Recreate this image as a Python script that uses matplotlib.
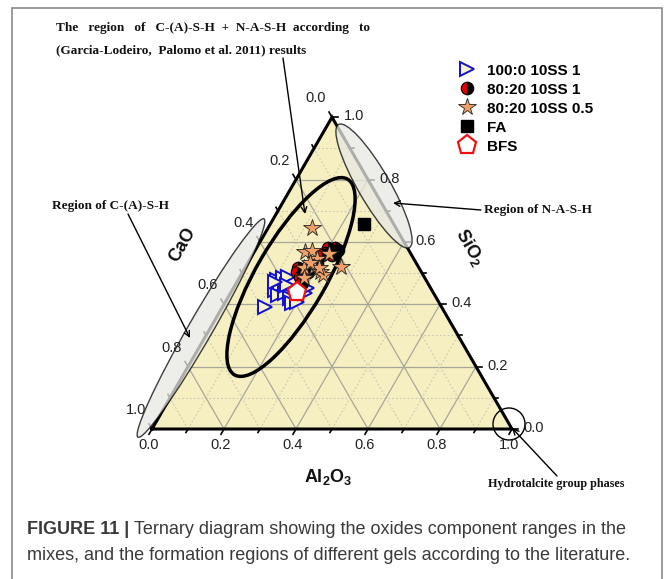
import numpy as np
import matplotlib
matplotlib.use('Agg')
import matplotlib.pyplot as plt
from matplotlib.patches import Ellipse, Polygon, Circle, Rectangle

plt.rcParams['font.family'] = ['Liberation Sans', 'DejaVu Sans']
plt.rcParams['mathtext.fontset'] = 'custom'
plt.rcParams['mathtext.bf'] = 'Liberation Sans:bold'
plt.rcParams['mathtext.rm'] = 'Liberation Sans'
plt.rcParams['mathtext.default'] = 'bf'

# compositions (CaO, SiO2, Al2O3 fractions)
ss100_cao = [0.490, 0.415, 0.436, 0.414, 0.394, 0.377, 0.435, 0.413, 0.408, 0.411, 0.394, 0.358, 0.345, 0.395, 0.422]
ss100_sio2 = [0.392, 0.478, 0.446, 0.462, 0.483, 0.488, 0.430, 0.435, 0.419, 0.403, 0.408, 0.435, 0.451, 0.462, 0.472]
ss100_al2o3 = [0.118, 0.107, 0.118, 0.124, 0.123, 0.135, 0.135, 0.152, 0.173, 0.186, 0.198, 0.207, 0.204, 0.143, 0.106]

ss80_cao = [0.221, 0.202, 0.196, 0.238, 0.250, 0.337, 0.346, 0.345, 0.314, 0.277, 0.351, 0.222]
ss80_sio2 = [0.579, 0.579, 0.574, 0.563, 0.558, 0.515, 0.504, 0.488, 0.504, 0.531, 0.467, 0.558]
ss80_al2o3 = [0.200, 0.219, 0.230, 0.199, 0.192, 0.148, 0.150, 0.167, 0.182, 0.192, 0.182, 0.220]

ss80h_cao = [0.291, 0.269, 0.270, 0.228, 0.215, 0.318, 0.289, 0.282, 0.277, 0.336, 0.280, 0.295, 0.232]
ss80h_sio2 = [0.568, 0.571, 0.545, 0.560, 0.520, 0.517, 0.520, 0.502, 0.494, 0.483, 0.515, 0.532, 0.646]
ss80h_al2o3 = [0.141, 0.160, 0.185, 0.212, 0.265, 0.165, 0.191, 0.216, 0.229, 0.181, 0.205, 0.173, 0.122]

fa_cao, fa_sio2, fa_al2o3 = [0.083], [0.657], [0.260]
bfs_cao, bfs_sio2, bfs_al2o3 = [0.378], [0.440], [0.182]

labels = ['100:0 10SS 1', '80:20 10SS 1', '80:20 10SS 0.5', 'FA', 'BFS']
tick_vals = [0.0, 0.2, 0.4, 0.6, 0.8, 1.0]

W, H = 667, 579
S, X0, Y0 = 360.0, 152, 429   # pixels per unit, triangle origin in pixels
fig = plt.figure(figsize=(W / 100, H / 100), dpi=100)
ax = fig.add_axes([0, 0, 1, 1])
ax.set_xlim(-X0 / S, (W - X0) / S)
ax.set_ylim((Y0 - H) / S, Y0 / S)
ax.axis('off')

R3 = np.sqrt(3) / 2


def tern(ca, si, al):
    ca, si, al = np.asarray(ca, float), np.asarray(si, float), np.asarray(al, float)
    t = ca + si + al
    si, al = si / t, al / t
    return al + si / 2, si * R3


def px(x, y):
    return (x - X0) / S, (Y0 - y) / S


# background triangle
corners = [tern(1, 0, 0), tern(0, 0, 1), tern(0, 1, 0)]
ax.add_patch(Polygon(corners, closed=True, facecolor='#f5efc2', edgecolor='none', zorder=0))

# grid
for k in range(1, 10):
    v = k / 10
    if k % 2 == 0:
        kw = dict(color='#a9a79a', lw=0.9, ls='-')
    else:
        kw = dict(color='#c9c6b2', lw=0.8, ls=(0, (1.5, 2)))
    for a, b in [((1 - v, 0, v), (0, 1 - v, v)),
                 ((1 - v, v, 0), (0, v, 1 - v)),
                 ((v, 0, 1 - v), (v, 1 - v, 0))]:
        xa, ya = tern(*a)
        xb, yb = tern(*b)
        ax.plot([xa, xb], [ya, yb], zorder=1, **kw)

# edges
ex, ey = zip(*(corners + [corners[0]]))
ax.plot(ex, ey, color='black', lw=2.2, zorder=3, solid_joinstyle='miter')

# ticks and tick labels
for k in range(11):
    v = k / 10
    L = 6 / S if k % 2 == 0 else 4 / S
    x, y = tern(1 - v, 0, v)
    ax.plot([x, x - 0.5 * L], [y, y - R3 * L], color='black', lw=1.2, zorder=3)
    x2, y2 = tern(v, 1 - v, 0)
    ax.plot([x2, x2 - 0.5 * L], [y2, y2 + R3 * L], color='black', lw=1.2, zorder=3)
    x3, y3 = tern(0, v, 1 - v)
    ax.plot([x3, x3 + L], [y3, y3], color='black', lw=1.2, zorder=3)

tkw = dict(fontsize=10.5, color='#222222', ha='center', va='center', zorder=6)
for v in tick_vals:
    x, y = tern(1 - v, 0, v)
    ax.text(x - 3 / S, y - 16 / S, f'{v:.1f}', **tkw)
    x, y = tern(v, 1 - v, 0)
    ax.text(x - 16 / S, y + 19 / S, f'{v:.1f}', **tkw)
    x, y = tern(0, v, 1 - v)
    ax.text(x + 22 / S, y + 1 / S, f'{v:.1f}', **tkw)

# axis titles
ax.text(*px(183, 245), 'CaO', rotation=60, fontsize=13, fontweight='bold',
        ha='center', va='center', color='#111111')
ax.text(*px(470, 247), 'SiO$_2$', rotation=-60, fontsize=13, fontweight='bold',
        ha='center', va='center', color='#111111')
ax.text(*px(328, 477), 'Al$_2$O$_3$', fontsize=13, fontweight='bold',
        ha='center', va='center', color='#111111')

# gel regions
ax.add_patch(Ellipse(px(291, 277), 226 / S, 70 / S, angle=60, facecolor='none',
                     edgecolor='black', lw=2.5, zorder=4))
ax.add_patch(Ellipse(px(201, 328), 252 / S, 24 / S, angle=60, facecolor='#e8e8e4',
                     edgecolor='black', lw=1.0, alpha=0.75, zorder=4))
ax.add_patch(Ellipse(px(374, 186), 142 / S, 32 / S, angle=-60, facecolor='#e8e8e4',
                     edgecolor='black', lw=1.0, alpha=0.75, zorder=4))
ax.add_patch(Circle(px(509, 424), 16 / S, facecolor='none', edgecolor='black',
                    lw=1.0, zorder=4))

# data
x, y = tern(ss100_cao, ss100_sio2, ss100_al2o3)
h1, = ax.plot(x, y, '>', ms=10, mfc='#f8f4cc', mec='#1010d0', mew=1.4, ls='none', zorder=7)
x, y = tern(ss80_cao, ss80_sio2, ss80_al2o3)
h2, = ax.plot(x, y, 'o', ms=9, fillstyle='left', mfc='#e00000', mfcalt='black',
              mec='black', mew=0.8, ls='none', zorder=8)
x, y = tern(ss80h_cao, ss80h_sio2, ss80h_al2o3)
h3, = ax.plot(x, y, '*', ms=13, mfc='#f0a068', mec='#222222', mew=0.6, ls='none', zorder=9)
x, y = tern(fa_cao, fa_sio2, fa_al2o3)
h4, = ax.plot(x, y, 's', ms=8, mfc='black', mec='black', ls='none', zorder=9)
x, y = tern(bfs_cao, bfs_sio2, bfs_al2o3)
h5, = ax.plot(x, y, 'p', ms=14, mfc='white', mec='#ee1111', mew=1.6, ls='none', zorder=10)

ax.legend([h1, h2, h3, h4, h5], labels, loc='upper left',
          bbox_to_anchor=(452 / W, 1 - 56 / H), frameon=False,
          prop={'family': 'Liberation Sans', 'weight': 'bold', 'size': 11},
          handlelength=1.0, handletextpad=0.8, labelspacing=0.33, borderpad=0)

# annotations
akw = dict(family='Liberation Serif', fontweight='bold', fontsize=9.5, color='#111111')
arw = dict(arrowstyle='->', color='black', lw=1.0, shrinkA=0, shrinkB=0)
ax.text(*px(56, 28), 'The   region   of   C-(A)-S-H  +  N-A-S-H  according   to',
        va='center', ha='left', **akw)
ax.text(*px(56, 50), '(Garcia-Lodeiro,  Palomo et al. 2011) results',
        va='center', ha='left', **akw)
ax.annotate('', xy=px(305, 214), xytext=px(283, 58), arrowprops=arw, zorder=11)

ax.text(*px(52, 206), 'Region of C-(A)-S-H', va='center', ha='left', **akw)
ax.annotate('', xy=px(190, 338), xytext=px(128, 214), arrowprops=arw, zorder=11)

ax.text(*px(484, 210), 'Region of N-A-S-H', va='center', ha='left', **akw)
ax.annotate('', xy=px(393, 203), xytext=px(481, 210), arrowprops=arw, zorder=11)

ax.text(*px(488, 484), 'Hydrotalcite group phases', va='center', ha='left',
        family='Liberation Serif', fontweight='bold', fontsize=8.7, color='#111111')
ax.annotate('', xy=px(512, 428), xytext=px(557, 476), arrowprops=arw, zorder=11)

# frame
fig.patches.append(Rectangle((12 / W, -0.01), 650 / W, 1 - 8 / H + 0.01,
                             transform=fig.transFigure, facecolor='none',
                             edgecolor='#8a8a8a', lw=1.2))

# caption
ckw = dict(fontsize=13, color='#3a3a3a', va='center', ha='left')
t1 = fig.text(27 / W, 1 - 530 / H, 'FIGURE 11 | ', fontweight='bold', **ckw)
fig.canvas.draw()
bb = t1.get_window_extent()
fig.text(bb.x1 / W, 1 - 530 / H,
         'Ternary diagram showing the oxides component ranges in the', **ckw)
fig.text(27 / W, 1 - 556 / H,
         'mixes, and the formation regions of different gels according to the literature.', **ckw)

fig.savefig('out.png', dpi=100)
